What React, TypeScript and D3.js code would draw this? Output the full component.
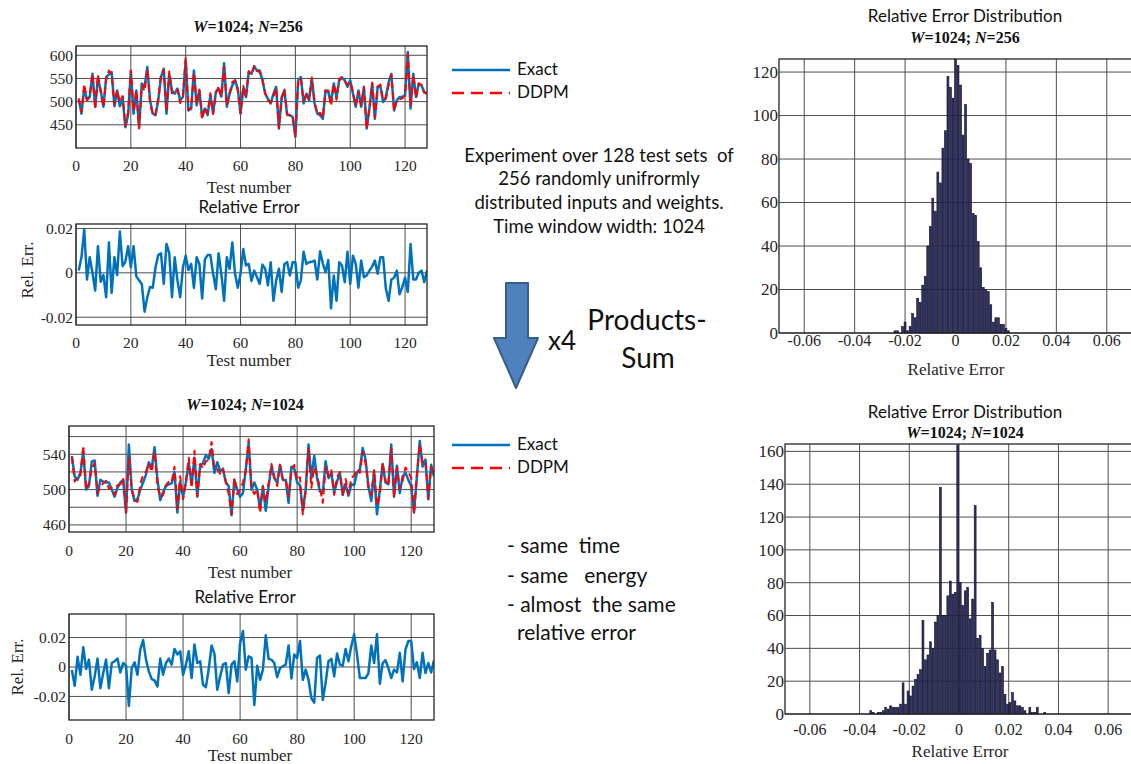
import React from 'react';
import * as d3 from 'd3';

// test sets 1..128
const testNumbers = d3.range(1, 129);

const exact256 = [
  506, 474, 528, 504, 510, 560, 489, 551, 524, 489,
  553, 559, 564, 490, 524, 490, 510, 445, 471, 566,
  474, 524, 444, 539, 532, 575, 503, 474, 471, 503,
  553, 571, 474, 560, 524, 517, 528, 503, 510, 589,
  481, 485, 567, 492, 524, 467, 485, 471, 514, 474,
  521, 528, 511, 583, 489, 517, 535, 546, 528, 474,
  528, 510, 564, 560, 576, 567, 567, 546, 517, 506,
  496, 517, 532, 442, 510, 524, 471, 471, 467, 424,
  546, 553, 496, 517, 503, 549, 496, 474, 471, 463,
  524, 521, 499, 539, 510, 546, 551, 546, 532, 546,
  517, 489, 524, 489, 532, 442, 485, 539, 463, 532,
  533, 499, 510, 542, 560, 481, 503, 510, 510, 514,
  607, 485, 560, 510, 539, 535, 521, 517,
];

const ddpm256 = [
  507, 478, 538, 503, 514, 560, 485, 557, 522, 489,
  547, 567, 559, 494, 524, 499, 512, 447, 477, 567,
  480, 523, 442, 536, 523, 569, 500, 471, 472, 507,
  558, 568, 480, 565, 518, 521, 526, 497, 511, 594,
  482, 487, 563, 495, 526, 462, 488, 475, 518, 474,
  517, 533, 511, 576, 492, 518, 542, 546, 524, 474,
  534, 512, 566, 558, 577, 566, 564, 548, 518, 503,
  498, 510, 530, 443, 505, 526, 473, 470, 469, 426,
  542, 551, 501, 519, 505, 552, 499, 473, 476, 465,
  524, 524, 491, 538, 504, 549, 553, 544, 537, 543,
  521, 491, 521, 492, 531, 442, 486, 541, 466, 532,
  537, 503, 506, 535, 558, 480, 504, 505, 507, 513,
  602, 492, 558, 508, 539, 536, 519, 518,
];

const relErr256 = [
  0.001, 0.007, 0.0196, -0.003, 0.007, 0, -0.008, 0.012, -0.004, -0.001,
  -0.011, 0.0137, -0.009, 0.007, -0.001, 0.0186, 0.003, 0.005, 0.012, 0.0025,
  0.012, -0.0016, -0.0034, -0.005, -0.0175, -0.011, -0.0064, -0.0067, 0.0025, 0.008,
  0.0088, -0.005, 0.013, 0.009, -0.011, 0.007, -0.0034, -0.011, 0.0025, 0.0077,
  0.0013, 0.004, -0.0068, 0.007, 0.004, -0.0116, 0.006, 0.008, 0.008, -0.0004,
  -0.0074, 0.0088, -0.0004, -0.0126, 0.007, 0.0018, 0.0137, -0.0004, -0.0067, -0.0004,
  0.0107, 0.0033, 0.004, -0.0037, 0.001, -0.002, -0.005, 0.0037, 0.0018, -0.0056,
  0.0048, -0.0126, -0.0034, 0.0018, -0.0086, 0.004, 0.0048, -0.0012, 0.0048, 0.0048,
  -0.0067, -0.0034, 0.0095, 0.004, 0.0048, 0.005, 0.0055, -0.003, 0.0097, 0.0043,
  0.0003, 0.0058, -0.016, -0.0012, -0.0126, 0.0048, 0.0033, -0.0042, 0.0095, -0.005,
  0.0077, 0.004, -0.0067, 0.0055, -0.002, -0.0012, 0.001, 0.0028, 0.0055, -0.0004,
  0.007, 0.007, -0.0071, -0.0126, -0.003, -0.0022, 0.001, -0.0097, -0.0064, -0.0022,
  -0.0086, 0.013, -0.003, -0.003, 0, 0.001, -0.0042, 0.001,
];

const exact1024 = [
  538, 515, 511, 519, 543, 500, 504, 532, 533, 493,
  511, 509, 508, 508, 500, 492, 502, 508, 511, 474,
  551, 500, 487, 489, 500, 508, 517, 531, 524, 548,
  512, 488, 497, 504, 506, 507, 520, 474, 509, 492,
  508, 530, 506, 536, 492, 527, 530, 539, 535, 546,
  519, 531, 521, 523, 508, 504, 471, 511, 500, 492,
  496, 523, 553, 500, 508, 500, 478, 504, 476, 504,
  526, 513, 508, 528, 511, 511, 485, 526, 524, 508,
  505, 476, 500, 551, 513, 538, 513, 498, 496, 532,
  513, 519, 497, 509, 519, 494, 506, 493, 506, 505,
  519, 523, 547, 534, 504, 487, 521, 472, 500, 529,
  508, 506, 551, 492, 527, 496, 515, 519, 511, 504,
  474, 515, 555, 526, 534, 489, 528, 515,
];

const ddpm1024 = [
  537, 509, 515, 516, 550, 500, 507, 524, 530, 496,
  504, 507, 510, 501, 502, 494, 505, 506, 512, 474,
  536, 500, 489, 486, 506, 517, 520, 530, 520, 543,
  505, 491, 494, 505, 509, 508, 526, 478, 515, 489,
  509, 536, 502, 544, 493, 529, 524, 532, 534, 554,
  523, 523, 518, 524, 509, 495, 472, 513, 495, 500,
  508, 522, 557, 503, 495, 500, 474, 503, 486, 507,
  529, 514, 504, 528, 511, 512, 492, 522, 528, 511,
  514, 472, 499, 546, 502, 525, 516, 502, 485, 526,
  515, 522, 494, 514, 520, 494, 512, 495, 513, 516,
  523, 519, 543, 530, 502, 494, 522, 482, 494, 530,
  510, 505, 547, 491, 525, 501, 510, 525, 520, 513,
  473, 516, 551, 531, 532, 490, 526, 517,
];

const relErr1024 = [
  -0.002, -0.0128, 0.0069, -0.0053, 0.0135, -0.0014, 0.005, -0.0155, -0.0064, 0.0057,
  -0.0144, -0.0041, 0.005, -0.0144, 0.0027, 0.0039, 0.0057, -0.0037, 0.0027, 0.0009,
  -0.0265, -0.0007, 0.0032, -0.0053, 0.0119, 0.0183, 0.005, -0.003, -0.0082, -0.0091,
  -0.0133, 0.0057, -0.0053, 0.0027, 0.0057, 0.0016, 0.0123, 0.0085, 0.0107, -0.0053,
  0.0016, 0.0107, -0.0075, 0.0153, 0.0027, 0.0039, -0.0121, -0.0137, -0.0014, 0.0146,
  0.0091, -0.0155, -0.0064, 0.0016, 0.0027, -0.0178, 0.0016, 0.0039, -0.0098, 0.016,
  0.0245, -0.0018, 0.0073, 0.0062, -0.0258, 0.0009, -0.0087, -0.0018, 0.0215, 0.0055,
  0.005, 0.0027, -0.0069, -0.0007, 0.0005, 0.0016, 0.0146, -0.0078, 0.0085, 0.0062,
  0.0176, -0.0087, -0.0018, -0.0087, -0.0213, -0.0242, 0.0062, 0.0078, -0.0224, -0.0105,
  0.0039, 0.0055, -0.0064, 0.0091, 0.0016, 0.0009, 0.0123, 0.0039, 0.0142, 0.0222,
  0.0085, -0.0075, -0.0075, -0.0075, -0.0041, 0.0146, 0.0027, 0.0222, -0.0114, 0.0027,
  0.0046, -0.0007, -0.0075, -0.0018, -0.0037, 0.0096, -0.0098, 0.0119, 0.0176, 0.0176,
  -0.0014, 0.0032, -0.0075, 0.0096, -0.0041, 0.0027, -0.0037, 0.0046,
];

// histogram bins, 0.001 wide
const binWidth = 0.001;
const hist256Start = -0.0245;
const hist256Counts = [
  1, 1, 0, 3, 5, 1, 3, 9, 7, 16,
  14, 22, 26, 40, 49, 62, 56, 74, 69, 85,
  93, 118, 113, 108, 126, 123, 114, 91, 105, 80,
  78, 55, 54, 42, 30, 21, 20, 19, 13, 5,
  7, 7, 4, 4, 2, 1,
];
const hist1024Start = -0.036;
const hist1024Counts = [
  2, 1, 0, 1, 1, 2, 4, 3, 5, 4,
  4, 4, 6, 19, 6, 14, 11, 17, 21, 24,
  27, 57, 33, 36, 44, 40, 56, 60, 138, 60,
  60, 72, 81, 73, 74, 164, 80, 66, 75, 77,
  58, 70, 127, 46, 48, 40, 29, 37, 39, 68,
  39, 33, 25, 29, 12, 6, 7, 13, 8, 5,
  5, 4, 2, 0, 4, 1, 1, 4, 0, 0,
  1,
];

const lineXTicks = [0, 20, 40, 60, 80, 100, 120];
const top256YTicks = [450, 500, 550, 600];
const bot1024YGrid = [460, 480, 500, 520, 540, 560];
const bot1024YTicks = [460, 500, 540];
const relErrTicks = [-0.02, 0, 0.02];
const histXTicks = [-0.06, -0.04, -0.02, 0, 0.02, 0.04, 0.06];
const hist256YTicks = [0, 20, 40, 60, 80, 100, 120];
const hist1024YTicks = [0, 20, 40, 60, 80, 100, 120, 140, 160];

const SERIF = '"Liberation Serif", "Times New Roman", serif';
const SANS = 'Lato, "Open Sans", sans-serif';
const BLUE = '#0072bd';
const RED = '#ff0000';
const GRID = '#4d4d4d';

type Box = { l: number; r: number; t: number; b: number };
type Series = { values: number[]; color: string; width: number; dash?: string };

const fmtErr = (v: number) => (v === 0 ? '0' : d3.format('.2f')(v).replace('−', '-'));

function LinePanel(props: {
  id: string; box: Box; yDomain: [number, number]; yGrid: number[]; yTicks: number[];
  fmt: (v: number) => string; series: Series[]; tickSize: number; xTickY: number;
}) {
  const { id, box, yDomain, yGrid, yTicks, fmt, series, tickSize, xTickY } = props;
  const x = d3.scaleLinear().domain([0, 128]).range([box.l, box.r]);
  const y = d3.scaleLinear().domain(yDomain).range([box.b, box.t]);
  const line = d3.line<number>().x((_, i) => x(testNumbers[i])).y(d => y(d));
  return (
    <g>
      <defs>
        <clipPath id={id}>
          <rect x={box.l} y={box.t} width={box.r - box.l} height={box.b - box.t} />
        </clipPath>
      </defs>
      {lineXTicks.map(t => (
        <line key={'gx' + t} x1={x(t)} x2={x(t)} y1={box.t} y2={box.b} stroke={GRID} strokeWidth={1} />
      ))}
      {yGrid.map(t => (
        <line key={'gy' + t} x1={box.l} x2={box.r} y1={y(t)} y2={y(t)} stroke={GRID} strokeWidth={1} />
      ))}
      <g clipPath={`url(#${id})`}>
        {series.map((s, i) => (
          <path key={i} d={line(s.values) || ''} fill="none" stroke={s.color} strokeWidth={s.width}
            strokeDasharray={s.dash} strokeLinejoin="round" />
        ))}
      </g>
      <rect x={box.l} y={box.t} width={box.r - box.l} height={box.b - box.t} fill="none" stroke="#262626" strokeWidth={1.3} />
      {lineXTicks.map(t => (
        <text key={'tx' + t} x={x(t)} y={xTickY} textAnchor="middle" fontFamily={SERIF} fontSize={tickSize} fill="#262626">{t}</text>
      ))}
      {yTicks.map(t => (
        <text key={'ty' + t} x={box.l - 3} y={y(t)} dy="0.35em" textAnchor="end" fontFamily={SERIF} fontSize={tickSize} fill="#262626">{fmt(t)}</text>
      ))}
    </g>
  );
}

function HistPanel(props: {
  box: Box; yMax: number; yTicks: number[]; start: number; counts: number[]; xTickY: number;
}) {
  const { box, yMax, yTicks, start, counts, xTickY } = props;
  const x = d3.scaleLinear().domain([-0.07, 0.07]).range([box.l, box.r]);
  const y = d3.scaleLinear().domain([0, yMax]).range([box.b, box.t]);
  const bw = x(binWidth) - x(0);
  return (
    <g>
      {histXTicks.map(t => (
        <line key={'gx' + t} x1={x(t)} x2={x(t)} y1={box.t} y2={box.b} stroke={GRID} strokeWidth={1} />
      ))}
      {yTicks.map(t => (
        <line key={'gy' + t} x1={box.l} x2={box.r} y1={y(t)} y2={y(t)} stroke={GRID} strokeWidth={1} />
      ))}
      {counts.map((c, i) => (c > 0 ? (
        <rect key={i} x={x(start + i * binWidth) + 0.3} y={y(c)} width={bw - 0.6} height={y(0) - y(c)}
          fill="#2f2f6a" stroke="#111122" strokeWidth={0.6} />
      ) : null))}
      <rect x={box.l} y={box.t} width={box.r - box.l} height={box.b - box.t} fill="none" stroke="#262626" strokeWidth={1.3} />
      {histXTicks.map(t => (
        <text key={'tx' + t} x={x(t)} y={xTickY} textAnchor="middle" fontFamily={SERIF} fontSize={16} fill="#262626">
          {t === 0 ? '0' : d3.format('.2f')(t).replace('−', '-')}
        </text>
      ))}
      {yTicks.map(t => (
        <text key={'ty' + t} x={box.l - 1} y={y(t)} dy="0.35em" textAnchor="end" fontFamily={SERIF} fontSize={17} fill="#262626">{t}</text>
      ))}
    </g>
  );
}

function WN({ x, y, n, size }: { x: number; y: number; n: string; size: number }) {
  return (
    <text x={x} y={y} textAnchor="middle" fontFamily={SERIF} fontSize={size} fontWeight="bold" fill="#111">
      <tspan fontStyle="italic">W</tspan>=1024; <tspan fontStyle="italic">N</tspan>={n}
    </text>
  );
}

function Legend({ y }: { y: number }) {
  return (
    <g>
      <line x1={452} x2={510} y1={y} y2={y} stroke={BLUE} strokeWidth={2.5} />
      <text x={517} y={y + 5} fontFamily={SANS} fontSize={17} fill="#111">Exact</text>
      <line x1={452} x2={510} y1={y + 23} y2={y + 23} stroke={RED} strokeWidth={2.5} strokeDasharray="12,7" />
      <text x={517} y={y + 28} fontFamily={SANS} fontSize={17} fill="#111">DDPM</text>
    </g>
  );
}

export default function App() {
  const p1: Box = { l: 76, r: 427, t: 46, b: 148 };
  const p2: Box = { l: 76, r: 427, t: 224, b: 325 };
  const p3: Box = { l: 69, r: 434, t: 426, b: 532 };
  const p4: Box = { l: 69, r: 434, t: 614, b: 720 };
  const h1: Box = { l: 779, r: 1132, t: 59, b: 333 };
  const h2: Box = { l: 785, r: 1133, t: 444, b: 714 };

  return (
    <svg width={1131} height={764} style={{ position: 'absolute', left: 0, top: 0, background: '#fff' }}>
      <rect width={1131} height={764} fill="#fff" />

      {/* N=256 values */}
      <WN x={248} y={32} n="256" size={16} />
      <LinePanel id="c1" box={p1} yDomain={[400, 620]} yGrid={top256YTicks} yTicks={top256YTicks}
        fmt={v => String(v)} tickSize={15.5} xTickY={171}
        series={[
          { values: exact256, color: BLUE, width: 2.5 },
          { values: ddpm256, color: RED, width: 2, dash: '7,4' },
        ]} />
      <text x={249} y={193} textAnchor="middle" fontFamily={SERIF} fontSize={17} fill="#262626">Test number</text>

      <text x={249} y={213} textAnchor="middle" fontFamily={SANS} fontSize={17} fill="#111">Relative Error</text>
      <LinePanel id="c2" box={p2} yDomain={[-0.0235, 0.022]} yGrid={relErrTicks} yTicks={relErrTicks}
        fmt={fmtErr} tickSize={15.5} xTickY={348}
        series={[{ values: relErr256, color: BLUE, width: 2.5 }]} />
      <text x={249} y={366} textAnchor="middle" fontFamily={SERIF} fontSize={17} fill="#262626">Test number</text>
      <text transform="translate(27,270) rotate(-90)" textAnchor="middle" dy="0.35em" fontFamily={SERIF} fontSize={17} fill="#262626">Rel. Err.</text>

      {/* N=1024 values */}
      <WN x={245} y={410} n="1024" size={16} />
      <LinePanel id="c3" box={p3} yDomain={[452, 572]} yGrid={bot1024YGrid} yTicks={bot1024YTicks}
        fmt={v => String(v)} tickSize={15.5} xTickY={556}
        series={[
          { values: exact1024, color: BLUE, width: 2.5 },
          { values: ddpm1024, color: RED, width: 2, dash: '7,4' },
        ]} />
      <text x={250} y={578} textAnchor="middle" fontFamily={SERIF} fontSize={17} fill="#262626">Test number</text>

      <text x={245} y={603} textAnchor="middle" fontFamily={SANS} fontSize={17} fill="#111">Relative Error</text>
      <LinePanel id="c4" box={p4} yDomain={[-0.036, 0.036]} yGrid={relErrTicks} yTicks={relErrTicks}
        fmt={fmtErr} tickSize={15.5} xTickY={744}
        series={[{ values: relErr1024, color: BLUE, width: 2.5 }]} />
      <text x={250} y={761} textAnchor="middle" fontFamily={SERIF} fontSize={17} fill="#262626">Test number</text>
      <text transform="translate(17,667) rotate(-90)" textAnchor="middle" dy="0.35em" fontFamily={SERIF} fontSize={17} fill="#262626">Rel. Err.</text>

      {/* legends and notes */}
      <Legend y={70} />
      <Legend y={445} />
      <g fontFamily={SANS} fontSize={18.5} fill="#111" textAnchor="middle">
        <text x={599} y={162} xmlSpace="preserve">Experiment over 128 test sets  of</text>
        <text x={599} y={185}>256 randomly unifrormly</text>
        <text x={599} y={209}>distributed inputs and weights.</text>
        <text x={599} y={233}>Time window width: 1024</text>
      </g>
      <path d="M506,283 L528,283 L528,338 L538,338 L516,388 L494,338 L506,338 Z"
        fill="#4f81bd" stroke="#385d8a" strokeWidth={2} strokeLinejoin="round" />
      <text x={548} y={350} fontFamily={SANS} fontSize={26} fill="#111">x4</text>
      <text x={647} y={330} textAnchor="middle" fontFamily={SANS} fontSize={28} fill="#111">Products-</text>
      <text x={648} y={368} textAnchor="middle" fontFamily={SANS} fontSize={28} fill="#111">Sum</text>
      <g fontFamily={SANS} fontSize={21} fill="#111">
        <text x={507} y={553} xmlSpace="preserve">{'- same  time'}</text>
        <text x={507} y={583} xmlSpace="preserve">{'- same   energy'}</text>
        <text x={507} y={612} xmlSpace="preserve">{'- almost  the same'}</text>
        <text x={517} y={640}>relative error</text>
      </g>

      {/* histograms */}
      <text x={965} y={22} textAnchor="middle" fontFamily={SANS} fontSize={17} fill="#111">Relative Error Distribution</text>
      <WN x={965} y={43} n="256" size={16} />
      <HistPanel box={h1} yMax={126} yTicks={hist256YTicks} start={hist256Start} counts={hist256Counts} xTickY={346} />
      <text x={956} y={375} textAnchor="middle" fontFamily={SERIF} fontSize={17} fill="#262626">Relative Error</text>

      <text x={965} y={418} textAnchor="middle" fontFamily={SANS} fontSize={17} fill="#111">Relative Error Distribution</text>
      <WN x={965} y={438} n="1024" size={16} />
      <HistPanel box={h2} yMax={164.5} yTicks={hist1024YTicks} start={hist1024Start} counts={hist1024Counts} xTickY={735} />
      <text x={960} y={757} textAnchor="middle" fontFamily={SERIF} fontSize={17} fill="#262626">Relative Error</text>
    </svg>
  );
}
